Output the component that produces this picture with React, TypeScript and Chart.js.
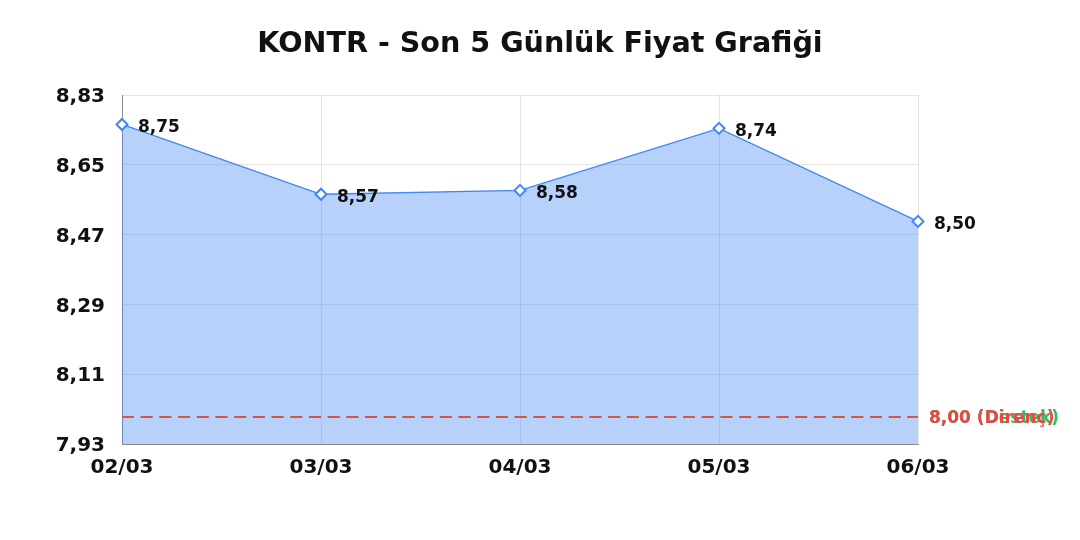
import { useEffect, useRef } from 'react';
import { Chart, registerables } from 'chart.js';

// Register Chart.js components
Chart.register(...registerables);

const chartTitle = 'KONTR - Son 5 Günlük Fiyat Grafiği';
const dates = ['02/03', '03/03', '04/03', '05/03', '06/03'];
const prices = [8.754, 8.574, 8.584, 8.744, 8.504];
const yTicks = [7.93, 8.11, 8.29, 8.47, 8.65, 8.83];
const levelNames = ['Destek', 'Direnç'];
const levelValues = [8.0, 8.0];
const levelColors = ['#22c55e', '#ef4444'];

const FONT = 'DejaVu Sans, sans-serif';
const fmt = (v: number) => v.toFixed(2).replace('.', ',');

// Title centred on the whole canvas, support/resistance lines, point value labels
const overlayPlugin = {
  id: 'overlay',
  afterDraw(chart: any) {
    const { ctx, chartArea, scales, width } = chart;
    ctx.save();

    ctx.fillStyle = '#111';
    ctx.font = `bold 28.6px ${FONT}`;
    ctx.textAlign = 'center';
    ctx.textBaseline = 'middle';
    ctx.fillText(chartTitle, width / 2, 45);

    levelValues.forEach((v, i) => {
      const y = Math.round(scales.y.getPixelForValue(v));
      ctx.strokeStyle = levelColors[i];
      ctx.globalAlpha = 0.85;
      ctx.lineWidth = 2;
      ctx.setLineDash([12, 6.7]);
      ctx.beginPath();
      ctx.moveTo(chartArea.left, y);
      ctx.lineTo(chartArea.right, y);
      ctx.stroke();
      ctx.setLineDash([]);
      ctx.globalAlpha = 1;
      ctx.fillStyle = levelColors[i];
      ctx.font = `bold 17px ${FONT}`;
      ctx.textAlign = 'left';
      ctx.textBaseline = 'middle';
      ctx.fillText(`${fmt(v)} (${levelNames[i]})`, chartArea.right + 11, y + 2);
    });

    const meta = chart.getDatasetMeta(0);
    ctx.fillStyle = '#111';
    ctx.font = `bold 17px ${FONT}`;
    ctx.textAlign = 'left';
    ctx.textBaseline = 'middle';
    meta.data.forEach((pt: any, i: number) => {
      ctx.fillText(fmt(prices[i]), pt.x + 16, pt.y + 3);
    });
    ctx.restore();
  }
};

export default function App() {
  const canvasRef = useRef<HTMLCanvasElement>(null);

  useEffect(() => {
    document.body.style.margin = '0';
    if (!canvasRef.current) return;

    const chart = new Chart(canvasRef.current, {
      type: 'line',
      data: {
        labels: dates,
        datasets: [{
          label: 'Fiyat',
          data: prices,
          borderColor: '#4285f4',
          backgroundColor: 'rgba(66, 133, 244, 0.38)',
          borderWidth: 1.3,
          fill: 'start',
          tension: 0,
          pointStyle: 'rectRot',
          pointRadius: 5.5,
          pointBackgroundColor: '#ffffff',
          pointBorderColor: '#4285f4',
          pointBorderWidth: 2
        }]
      },
      options: {
        responsive: true,
        maintainAspectRatio: false,
        animation: false,
        layout: {
          padding: { left: 54, right: 162, top: 95, bottom: 48 }
        },
        plugins: {
          legend: { display: false },
          tooltip: { enabled: false },
          title: { display: false }
        },
        scales: {
          x: {
            grid: { color: 'rgba(0, 0, 0, 0.1)', drawTicks: false },
            border: { color: '#888' },
            ticks: {
              color: '#111',
              padding: 12,
              font: { family: FONT, size: 20, weight: 'bold' }
            }
          },
          y: {
            min: yTicks[0],
            max: yTicks[yTicks.length - 1],
            afterBuildTicks: (scale: any) => {
              scale.ticks = yTicks.map(v => ({ value: v }));
            },
            afterFit: (scale: any) => {
              scale.width = 68;
            },
            grid: { color: 'rgba(0, 0, 0, 0.1)', drawTicks: false },
            border: { color: '#888' },
            ticks: {
              color: '#111',
              padding: 17,
              labelOffset: 2,
              font: { family: FONT, size: 20, weight: 'bold' },
              callback: (v: any) => fmt(Number(v))
            }
          }
        }
      },
      plugins: [overlayPlugin]
    });

    return () => {
      chart.destroy();
    };
  }, []);

  return (
    <div style={{ width: 1080, height: 540, position: 'relative' }}>
      <canvas ref={canvasRef}></canvas>
    </div>
  );
}
